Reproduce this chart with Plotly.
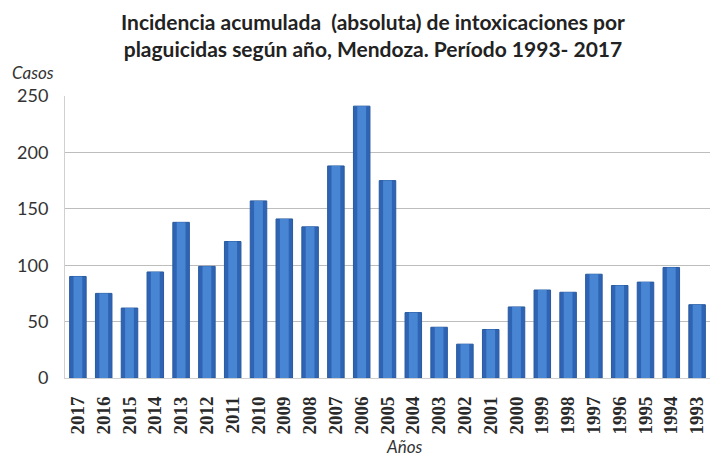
import plotly.graph_objects as go

years = ["2017", "2016", "2015", "2014", "2013", "2012", "2011", "2010", "2009",
         "2008", "2007", "2006", "2005", "2004", "2003", "2002", "2001", "2000",
         "1999", "1998", "1997", "1996", "1995", "1994", "1993"]
casos = [90, 75, 62, 94, 138, 99, 121, 157, 141, 134, 188, 241, 175, 58, 45,
         30, 43, 63, 78, 76, 92, 82, 85, 98, 65]
y_ticks = [0, 50, 100, 150, 200, 250]

title_text = ("<b>Incidencia acumulada  (absoluta) de intoxicaciones por<br>"
              "plaguicidas según año, Mendoza. Período 1993- 2017</b>")

# page body has an 8px default margin; figure is sized to fit inside it
OFF = 8
W, H = 702, 449
L, T, B, R = 57, 88, 79, 0
plot_w = W - L - R
plot_h = H - T - B


def px_x(ax):
    return (ax - OFF - L) / plot_w


def px_y(ay):
    return ((H - B) - (ay - OFF)) / plot_h


fig = go.Figure()
fig.add_trace(go.Bar(
    x=years, y=casos,
    marker=dict(color="#2e64b3", line=dict(color="#285a9f", width=1)),
    width=0.64, hoverinfo="x+y",
))
fig.add_trace(go.Bar(
    x=years, y=casos,
    marker=dict(color="#4886d4", line=dict(width=0)),
    width=0.34, hoverinfo="skip",
))

fig.update_layout(
    width=W, height=H,
    margin=dict(l=L, r=R, t=T, b=B),
    barmode="overlay",
    paper_bgcolor="white", plot_bgcolor="white",
    showlegend=False,
    font=dict(family="Lato, sans-serif", color="#333333"),
)
fig.update_xaxes(
    type="category", tickangle=-90,
    tickfont=dict(family="Liberation Serif, DejaVu Serif, serif", size=19,
                  color="#2a2a2a", weight="bold"),
    showline=True, linecolor="#d0d0d0", linewidth=1,
    ticks="", showgrid=False, ticklabelstandoff=10,
)
fig.update_yaxes(
    range=[0, 250], tickvals=y_ticks,
    tickfont=dict(family="Lato, sans-serif", size=18, color="#333333"),
    showgrid=True, gridcolor="#bdbdbd", gridwidth=1,
    showline=True, linecolor="#d0d0d0", linewidth=1,
    zeroline=False, ticks="", ticklabelstandoff=12,
)
fig.add_annotation(text=title_text, xref="paper", yref="paper",
                   x=px_x(373), y=px_y(7), xanchor="center", yanchor="top",
                   showarrow=False,
                   font=dict(family="Lato, Open Sans, sans-serif", size=21, color="#222222"))
fig.add_annotation(text="<i>Casos</i>", xref="paper", yref="paper",
                   x=px_x(10), y=px_y(72),
                   xanchor="left", yanchor="middle", showarrow=False,
                   font=dict(family="Lato, sans-serif", size=17, color="#333333"))
fig.add_annotation(text="<i>Años</i>", xref="paper", yref="paper",
                   x=px_x(404), y=px_y(446),
                   xanchor="center", yanchor="middle", showarrow=False,
                   font=dict(family="Lato, sans-serif", size=17, color="#333333"))

fig.write_html("out.html")
